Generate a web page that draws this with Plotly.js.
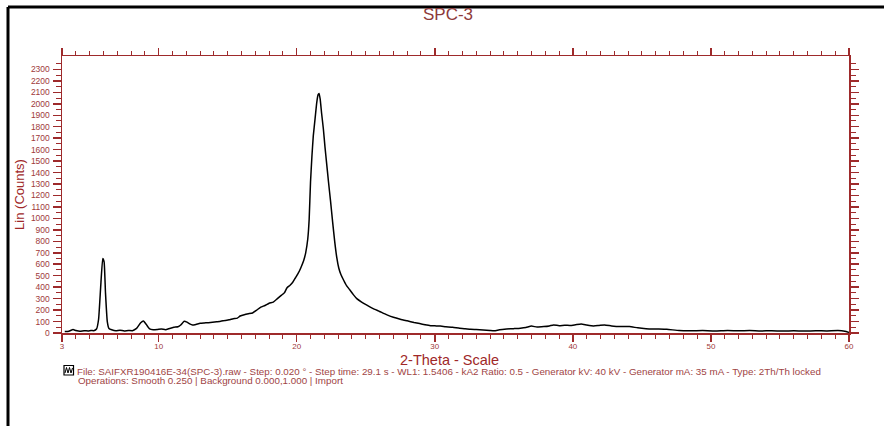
<!DOCTYPE html>
<html>
<head>
<meta charset="utf-8">
<script src="https://cdn.plot.ly/plotly-3.0.1.min.js"></script>
<style>
  html, body { margin: 0; padding: 0; background: #ffffff; }
  #chart { width: 884px; height: 426px; }
</style>
</head>
<body>
<div id="chart"></div>
<script>
// XRD scan of sample SPC-3: 2-theta (degrees) vs intensity (counts)
const twoTheta = [
  3.2, 3.5, 3.8, 4.0, 4.3, 4.6, 4.9, 5.1, 5.3, 5.5, 5.65, 5.8, 5.95, 6.05, 6.15, 6.28, 6.4, 6.6, 6.9,
  7.2, 7.5, 7.8, 8.1, 8.4, 8.7, 8.9, 9.1, 9.35, 9.6, 9.9, 10.2, 10.5, 10.8, 11.1, 11.4, 11.6, 11.85,
  12.05, 12.25, 12.45, 12.7, 13.0, 13.3, 13.6, 13.9, 14.2, 14.5, 14.8, 15.1, 15.4, 15.7, 15.9, 16.2,
  16.5, 16.8, 17.1, 17.4, 17.7, 18.0, 18.3, 18.6, 18.9, 19.1, 19.3, 19.5, 19.7, 19.9, 20.1, 20.3,
  20.5, 20.65, 20.8, 20.9, 21.0, 21.1, 21.2, 21.33, 21.45, 21.55, 21.62, 21.7, 21.8, 21.93, 22.05,
  22.15, 22.3, 22.45, 22.6, 22.75, 22.9, 23.05, 23.2, 23.4, 23.6, 23.85, 24.1, 24.35, 24.7, 25.05,
  25.5, 26.0, 26.5, 27.0, 27.5, 28.0, 28.5, 28.9, 29.3, 29.7, 30.1, 30.4, 30.8, 31.3, 31.8, 32.2,
  32.6, 33.0, 33.5, 34.0, 34.3, 34.7, 35.2, 35.7, 36.2, 36.6, 37.0, 37.4, 37.9, 38.3, 38.6, 39.0,
  39.4, 39.8, 40.2, 40.6, 41.0, 41.5, 41.9, 42.3, 42.8, 43.4, 44.1, 44.7, 45.3, 46.0, 46.8, 47.7,
  48.5, 49.4, 50.3, 51.2, 52.0, 52.8, 53.6, 54.4, 55.2, 56.0, 56.8, 57.6, 58.4, 59.2, 59.7, 60.0
];
const counts = [
  12, 15, 30, 22, 15, 20, 18, 22, 20, 35, 120, 400, 650, 620, 350, 100, 40, 28, 20,
  25, 18, 22, 20, 40, 90, 105, 75, 35, 28, 30, 35, 28, 40, 50, 55, 70, 102,
  95, 80, 70, 75, 85, 88, 90, 94, 98, 102, 110, 115, 125, 130, 148, 160,
  168, 175, 200, 225, 240, 260, 270, 300, 330, 350, 395, 415, 440, 480, 520, 570,
  630, 700, 820, 990, 1320, 1540, 1720, 1870, 2010, 2080, 2090, 2040, 1920, 1780, 1620,
  1500, 1320, 1150, 970, 800, 660, 565, 510, 460, 415, 375, 335, 300, 270, 245,
  215, 188, 160, 137, 120, 106, 92, 82, 72, 64, 62, 60, 55, 50, 42, 38,
  32, 30, 26, 22, 20, 28, 34, 38, 42, 48, 60, 52, 56, 62, 70, 64,
  68, 66, 72, 78, 70, 62, 66, 70, 62, 56, 56, 45, 38, 35, 32, 22,
  20, 21, 18, 22, 19, 21, 18, 20, 17, 19, 17, 20, 18, 21, 15, 5
];

// axis ticks
const xTickVals = [3, 10, 20, 30, 40, 50, 60];
const xTickText = ['3', '10', '20', '30', '40', '50', '60'];
const yTickVals = [];
for (let v = 0; v <= 2300; v += 100) yTickVals.push(v);
const yTickText = yTickVals.map(String);

// text
const chartTitle = 'SPC-3';
const xTitle = '2-Theta - Scale';
const yTitle = 'Lin (Counts)';
const infoLine1 = 'File: SAIFXR190416E-34(SPC-3).raw - Step: 0.020 ° - Step time: 29.1 s - WL1: 1.5406 - kA2 Ratio: 0.5 - Generator kV: 40 kV - Generator mA: 35 mA - Type: 2Th/Th locked';
const infoLine2 = 'Operations: Smooth 0.250 | Background 0.000,1.000 | Import';

// page geometry (pixels)
const W = 884, H = 426;
const M = { l: 62, r: 35, t: 56, b: 93 };
const plotW = W - M.l - M.r, plotH = H - M.t - M.b;
const px = x => (x - M.l) / plotW;          // pixel x -> paper x
const py = y => (H - M.b - y) / plotH;      // pixel y -> paper y

const axisRed = '#9e2a2b';
const textRed = '#a03a3a';
const font = 'Liberation Sans, Arial, sans-serif';

const minorX = [];
for (let v = 3; v <= 60; v += 1) if (!xTickVals.includes(v)) minorX.push(v);
const minorY = [];
for (let v = 50; v <= 2400; v += 100) minorY.push(v);

const trace = {
  x: twoTheta,
  y: counts,
  type: 'scatter',
  mode: 'lines',
  line: { color: '#000000', width: 1.5, shape: 'spline', smoothing: 0.4 },
  hoverinfo: 'skip'
};

const layout = {
  width: W,
  height: H,
  margin: M,
  paper_bgcolor: '#ffffff',
  plot_bgcolor: '#ffffff',
  showlegend: false,
  font: { family: font, color: textRed },
  title: {
    text: chartTitle,
    font: { family: font, size: 17, color: '#8e3a3a' },
    x: 448 / W, xref: 'container', xanchor: 'center',
    y: 1 - 14 / H, yref: 'container', yanchor: 'middle'
  },
  xaxis: {
    range: [3, 60],
    showline: true, linecolor: axisRed, linewidth: 1.5,
    mirror: 'ticks',
    ticks: 'outside', tickmode: 'array', tickvals: xTickVals, ticktext: xTickText,
    ticklen: 7, tickwidth: 1.5, tickcolor: axisRed,
    ticklabelstandoff: -2,
    tickfont: { family: font, size: 8, color: textRed },
    minor: { tickmode: 'array', tickvals: minorX, ticks: 'outside', ticklen: 4, tickwidth: 1, tickcolor: axisRed },
    showgrid: false, zeroline: false, fixedrange: true
  },
  yaxis: {
    range: [0, 2417],
    showline: true, linecolor: axisRed, linewidth: 1.5,
    mirror: 'ticks',
    ticks: 'outside', tickmode: 'array', tickvals: yTickVals, ticktext: yTickText,
    ticklen: 8, tickwidth: 1.5, tickcolor: axisRed,
    ticklabelstandoff: 1,
    tickfont: { family: font, size: 8.5, color: textRed },
    minor: { tickmode: 'array', tickvals: minorY, ticks: 'outside', ticklen: 5, tickwidth: 1, tickcolor: axisRed },
    title: { text: yTitle, font: { family: font, size: 13, color: '#a02828' }, standoff: 3 },
    showgrid: false, zeroline: false, fixedrange: true
  },
  annotations: [
    {
      text: xTitle, xref: 'paper', yref: 'paper', x: px(449), y: py(360),
      xanchor: 'center', yanchor: 'middle', showarrow: false,
      font: { family: font, size: 14.5, color: '#a02828' }
    },
    {
      text: infoLine1, xref: 'paper', yref: 'paper', x: px(75), y: py(371),
      xanchor: 'left', yanchor: 'middle', showarrow: false,
      font: { family: font, size: 9.8, color: '#a04444' }
    },
    {
      text: infoLine2, xref: 'paper', yref: 'paper', x: px(76), y: py(380),
      xanchor: 'left', yanchor: 'middle', showarrow: false,
      font: { family: font, size: 9.8, color: '#a04444' }
    }
  ],
  shapes: [
    // outer frame: top and left edges
    { type: 'line', xref: 'paper', yref: 'paper', x0: px(8), x1: px(884), y0: py(7), y1: py(7),
      line: { color: '#000000', width: 3 } },
    { type: 'line', xref: 'paper', yref: 'paper', x0: px(8), x1: px(8), y0: py(7), y1: py(426),
      line: { color: '#000000', width: 3 } },
    // scan icon beside the file info
    { type: 'rect', xref: 'paper', yref: 'paper', x0: px(64), x1: px(73.5), y0: py(375), y1: py(365.5),
      line: { color: '#000000', width: 1.2 }, fillcolor: '#ffffff' },
    { type: 'path', xref: 'paper', yref: 'paper',
      path: 'M ' + px(65) + ',' + py(373) + ' L ' + px(66.5) + ',' + py(367.5) + ' L ' + px(68) + ',' + py(373) +
            ' L ' + px(69.5) + ',' + py(367.5) + ' L ' + px(71) + ',' + py(373) + ' L ' + px(72.5) + ',' + py(368),
      line: { color: '#000000', width: 1 } }
  ]
};

Plotly.newPlot('chart', [trace], layout, { staticPlot: true, displayModeBar: false });
</script>
</body>
</html>
